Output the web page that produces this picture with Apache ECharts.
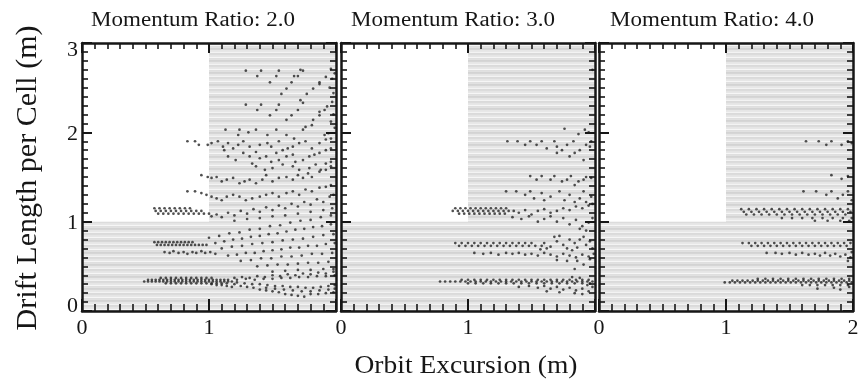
<!DOCTYPE html>
<html>
<head>
<meta charset="utf-8">
<script src="https://cdn.jsdelivr.net/npm/echarts@6/dist/echarts.min.js"></script>
<style>
  html, body { margin: 0; padding: 0; background: #ffffff; }
  #chart { width: 862px; height: 388px; }
</style>
</head>
<body>
<div id="chart"></div>
<script>
// ---- labels ----
const panelTitles = ['Momentum Ratio: 2.0', 'Momentum Ratio: 3.0', 'Momentum Ratio: 4.0'];
const xAxisTitle = 'Orbit Excursion (m)';
const yAxisTitle = 'Drift Length per Cell (m)';

// ---- axis ranges (m) ----
const xRange = [0, 2];
const yRange = [0, 3];

// ---- hatched regions, as [[x0, y0], [x1, y1]] in axis units ----
const shadedRegions = [
  [[0, 0], [2, 1]],
  [[1, 1], [2, 3]]
];

// ---- momentum ratio 2.0: isolated dots [x, y] ----
const ratio2Dots = [
  [1.29,2.69],[1.41,2.69],[1.55,2.69],[1.72,2.70],[1.74,2.69],[1.96,2.71],
  [1.38,2.63],[1.53,2.63],[1.67,2.63],[1.70,2.63],[1.92,2.62],[1.99,2.66],
  [1.48,2.56],[1.65,2.56],[1.87,2.56],[1.87,2.54],[1.97,2.60],
  [1.61,2.49],[1.82,2.49],[1.95,2.50],[1.57,2.43],[1.77,2.43],[1.98,2.44],
  [1.72,2.36],[1.74,2.33],[1.97,2.34],[1.29,2.31],[1.41,2.31],[1.55,2.31],[1.93,2.29],
  [1.38,2.25],[1.53,2.25],[1.70,2.25],[1.91,2.25],[1.87,2.23],
  [1.48,2.19],[1.65,2.19],[1.87,2.19],[1.98,2.20],[1.61,2.14],[1.82,2.14],[1.96,2.12],
  [1.13,2.03],[1.24,2.03],[1.37,2.03],[1.53,2.03],[1.74,2.03],[1.99,2.05],
  [1.23,1.97],[1.31,2.00],[1.46,1.97],[1.61,1.97],[1.67,1.93],[1.76,2.06],[1.81,2.08],[1.91,1.97],[1.94,1.99],
  [0.83,1.90],[0.89,1.90],[0.92,1.86],[0.99,1.86],[1.02,1.88],[1.07,1.90],[1.11,1.84],[1.12,1.80],
  [1.15,1.88],[1.19,1.82],[1.23,1.86],[1.27,1.90],[1.32,1.84],[1.37,1.78],[1.40,1.86],[1.46,1.88],
  [1.49,1.84],[1.55,1.90],[1.58,1.80],[1.62,1.82],[1.66,1.84],[1.71,1.88],[1.76,1.90],[1.81,1.82],
  [1.87,1.88],[1.92,1.92],[1.96,1.93],
  [1.15,1.73],[1.21,1.69],[1.27,1.77],[1.32,1.73],[1.34,1.65],[1.40,1.71],[1.45,1.73],[1.49,1.67],
  [1.53,1.77],[1.55,1.69],[1.61,1.73],[1.66,1.75],[1.68,1.67],[1.74,1.69],[1.79,1.73],[1.83,1.75],
  [1.87,1.77],[1.92,1.80],[1.96,1.82],
  [1.37,1.62],[1.44,1.58],[1.50,1.60],[1.58,1.64],[1.66,1.62],[1.71,1.58],[1.79,1.60],[1.84,1.64],
  [1.88,1.58],[1.92,1.65],[1.96,1.67],
  [0.94,1.52],[0.99,1.50],[1.02,1.49],[1.06,1.50],[1.10,1.45],[1.14,1.47],[1.19,1.49],[1.24,1.43],
  [1.28,1.45],[1.32,1.47],[1.37,1.43],[1.42,1.47],[1.45,1.52],[1.50,1.45],[1.55,1.49],[1.61,1.50],
  [1.66,1.47],[1.70,1.52],[1.74,1.49],[1.78,1.54],[1.81,1.50],[1.87,1.56],[1.92,1.58],[1.96,1.62],
  [0.83,1.34],[0.89,1.34],[0.94,1.32],[0.98,1.30],[1.02,1.28],[1.06,1.26],[1.10,1.24],[1.14,1.28],
  [1.19,1.30],[1.24,1.28],[1.29,1.24],[1.34,1.26],[1.40,1.28],[1.45,1.30],[1.50,1.32],[1.55,1.28],
  [1.61,1.32],[1.66,1.34],[1.71,1.30],[1.76,1.36],[1.81,1.34],[1.87,1.38],[1.92,1.39],[1.96,1.41],
  [1.02,1.06],[1.06,1.08],[1.10,1.05],[1.15,1.10],[1.20,1.07],[1.25,1.12],[1.30,1.09],[1.35,1.14],
  [1.40,1.11],[1.45,1.16],[1.50,1.13],[1.55,1.18],[1.60,1.15],[1.65,1.20],[1.70,1.17],[1.75,1.22],
  [1.80,1.19],[1.85,1.25],[1.90,1.22],[1.95,1.28],[1.98,1.30],
  [1.20,1.01],[1.30,1.03],[1.40,1.04],[1.50,1.06],[1.60,1.07],[1.70,1.09],[1.80,1.11],[1.90,1.13],[1.97,1.15],
  [0.65,0.66],[0.69,0.65],[0.72,0.67],[0.76,0.65],[0.80,0.66],[0.83,0.64],[0.87,0.66],[0.90,0.65],
  [0.94,0.67],[0.97,0.65],[1.01,0.66],[1.05,0.64],
  [1.00,0.82],[1.08,0.84],[1.16,0.87],[1.24,0.88],[1.32,0.91],[1.40,0.92],[1.48,0.95],[1.56,0.96],
  [1.64,0.99],[1.72,1.01],[1.80,1.02],[1.88,1.05],[1.96,1.07],
  [1.05,0.76],[1.12,0.78],[1.19,0.80],[1.26,0.81],[1.33,0.83],[1.40,0.84],[1.47,0.86],[1.54,0.87],
  [1.61,0.89],[1.68,0.91],[1.75,0.92],[1.82,0.94],[1.89,0.95],[1.96,0.97],
  [1.10,0.70],[1.18,0.72],[1.26,0.73],[1.34,0.75],[1.42,0.76],[1.50,0.77],[1.58,0.79],[1.66,0.80],
  [1.74,0.81],[1.82,0.83],[1.90,0.85],[1.98,0.86],
  [1.15,0.62],[1.22,0.63],[1.29,0.65],[1.36,0.65],[1.43,0.67],[1.50,0.68],[1.57,0.69],[1.64,0.71],
  [1.71,0.71],[1.78,0.73],[1.85,0.73],[1.92,0.75],[1.99,0.76],
  [1.25,0.56],[1.33,0.57],[1.41,0.59],[1.49,0.59],[1.57,0.61],[1.65,0.61],[1.73,0.62],[1.81,0.64],
  [1.89,0.64],[1.97,0.65],
  [1.38,0.50],[1.46,0.51],[1.54,0.52],[1.62,0.52],[1.70,0.53],[1.78,0.54],[1.86,0.54],[1.94,0.55],
  [1.50,0.44],[1.60,0.45],[1.70,0.46],[1.80,0.46],[1.90,0.47],[1.98,0.47],
  [1.20,0.37],[1.26,0.38],[1.32,0.37],[1.38,0.39],[1.44,0.38],[1.50,0.40],[1.56,0.39],[1.62,0.41],
  [1.68,0.40],[1.74,0.42],[1.80,0.41],[1.86,0.43],[1.92,0.42],[1.98,0.44],
  [1.15,0.35],[1.22,0.35],[1.29,0.36],[1.36,0.35],[1.43,0.36],[1.50,0.36],[1.57,0.37],[1.64,0.37],
  [1.71,0.38],[1.78,0.38],[1.85,0.39],[1.92,0.39],[1.99,0.40],
  [1.20,0.30],[1.25,0.28],[1.30,0.27],[1.35,0.26],[1.40,0.24],[1.45,0.23],[1.50,0.22],[1.55,0.21],
  [1.60,0.19],[1.65,0.18],[1.70,0.17],[1.75,0.16],
  [1.22,0.32],[1.28,0.31],[1.34,0.30],[1.40,0.30],[1.46,0.29],[1.52,0.28],[1.58,0.28],[1.64,0.27],
  [1.70,0.27],[1.76,0.26],[1.82,0.26],[1.88,0.27],[1.94,0.28],[1.99,0.29],
  [1.45,0.26],[1.52,0.25],[1.59,0.24],[1.66,0.23],[1.73,0.22],[1.80,0.22],[1.87,0.23],[1.94,0.24],[1.99,0.25],
  [1.80,0.19],[1.86,0.19],[1.92,0.20],[1.98,0.21],
  [1.02,0.30],[1.06,0.29],[1.10,0.29],[1.14,0.28],[1.18,0.27]
];
// ---- momentum ratio 2.0: dense runs [y, [x, ...]] ----
const ratio2Runs = [
  [1.15, [0.57,0.61,0.65,0.69,0.73,0.77,0.81,0.85]],
  [1.12, [0.58,0.62,0.66,0.70,0.74,0.78,0.82,0.86,0.90,0.94]],
  [1.09, [0.60,0.64,0.68,0.72,0.76,0.80,0.84,0.88,0.92,0.96,1.00]],
  [0.77, [0.57,0.60,0.63,0.66,0.69,0.72,0.75,0.78,0.81,0.84,0.87]],
  [0.74, [0.59,0.62,0.65,0.68,0.71,0.74,0.77,0.80,0.83,0.86,0.89,0.92,0.95,0.98]],
  [0.37, [0.62,0.66,0.70,0.74,0.78,0.82,0.86,0.90,0.94,0.98,1.02]],
  [0.35, [0.52,0.55,0.58,0.61,0.64,0.67,0.70,0.73,0.76,0.79,0.82,0.85,0.88,0.91,0.94,0.97,1.00,1.03,1.06,1.09,1.12]],
  [0.33, [0.49,0.52,0.55,0.58,0.61,0.64,0.67,0.70,0.73,0.76,0.79,0.82,0.85,0.88,0.91,0.94,0.97,1.00,1.03,1.06,1.09,1.12,1.15,1.18]],
  [0.31, [0.66,0.70,0.74,0.78,0.82,0.86,0.90,0.94,0.98,1.02,1.06,1.10,1.14]]
];

// ---- momentum ratio 3.0 ----
const ratio3Dots = [
  [1.98,2.70],[1.76,2.04],[1.87,1.98],[1.92,2.03],[1.95,2.00],
  [1.31,1.90],[1.39,1.90],[1.45,1.86],[1.49,1.90],[1.54,1.86],[1.58,1.90],[1.62,1.82],[1.68,1.90],
  [1.70,1.84],[1.74,1.80],[1.78,1.86],[1.70,1.77],[1.80,1.73],[1.83,1.90],[1.84,1.77],[1.88,1.80],
  [1.91,1.69],[1.93,1.86],[1.97,1.90],[1.96,1.84],
  [1.49,1.51],[1.54,1.47],[1.58,1.51],[1.65,1.47],[1.68,1.51],[1.74,1.45],[1.78,1.47],[1.81,1.51],
  [1.84,1.41],[1.87,1.45],[1.91,1.47],[1.93,1.50],[1.97,1.49],
  [1.30,1.34],[1.38,1.34],[1.45,1.30],[1.49,1.34],[1.52,1.26],[1.58,1.32],[1.60,1.24],[1.65,1.28],
  [1.72,1.34],[1.76,1.24],[1.80,1.30],[1.84,1.22],[1.88,1.26],[1.91,1.34],[1.93,1.22],[1.97,1.28],
  [1.40,1.10],[1.45,1.13],[1.50,1.08],[1.55,1.12],[1.60,1.14],[1.65,1.10],[1.70,1.12],[1.75,1.15],
  [1.80,1.13],[1.85,1.17],[1.90,1.15],[1.95,1.18],[1.98,1.20],[1.35,1.05],[1.42,1.03],[1.48,1.06],
  [1.55,1.00],[1.60,1.03],[1.65,1.06],[1.70,1.00],[1.75,1.04],[1.80,0.97],[1.85,1.02],[1.90,0.95],
  [1.95,0.99],[1.98,1.04],[1.88,0.92],[1.93,0.90],
  [1.60,0.76],[1.65,0.72],[1.68,0.83],[1.70,0.78],[1.72,0.84],[1.75,0.74],[1.78,0.70],[1.80,0.80],
  [1.84,0.76],[1.86,0.71],[1.88,0.80],[1.91,0.83],[1.93,0.74],[1.96,0.78],[1.98,0.70],[1.82,0.68],
  [1.62,0.70],[1.57,0.69],
  [1.05,0.65],[1.12,0.64],[1.18,0.65],[1.24,0.63],[1.30,0.65],[1.35,0.64],[1.40,0.65],[1.45,0.63],
  [1.50,0.64],[1.55,0.62],[1.60,0.65],[1.65,0.63],[1.70,0.61],[1.75,0.64],[1.80,0.62],[1.85,0.60],
  [1.90,0.63],[1.95,0.61],[1.99,0.64],
  [1.70,0.57],[1.78,0.56],[1.86,0.56],[1.91,0.52],[1.96,0.58],[1.84,0.47],
  [1.40,0.27],[1.48,0.28],[1.55,0.26],[1.60,0.28],[1.65,0.25],[1.70,0.27],[1.75,0.24],[1.80,0.26],
  [1.85,0.23],[1.90,0.25],[1.95,0.22],[1.98,0.27],[1.62,0.22],[1.72,0.21],[1.84,0.20],[1.90,0.19],
  [1.94,0.29],[1.88,0.37],[1.82,0.38]
];
const ratio3Runs = [
  [1.15, [0.90,0.94,0.98,1.02,1.06,1.10,1.14,1.18,1.22,1.26,1.30]],
  [1.12, [0.88,0.92,0.96,1.00,1.04,1.08,1.12,1.16,1.20,1.24,1.28,1.32,1.36]],
  [1.09, [0.93,0.97,1.01,1.05,1.09,1.13,1.17,1.21,1.25,1.29]],
  [0.76, [0.90,0.95,1.00,1.05,1.10,1.15,1.20,1.25,1.30,1.35,1.40,1.45,1.50]],
  [0.73, [0.93,0.98,1.03,1.08,1.13,1.18,1.23,1.28,1.33,1.38,1.43,1.48,1.53,1.58]],
  [0.35, [0.95,1.00,1.05,1.10,1.15,1.20,1.25,1.30,1.35,1.40,1.45,1.50,1.55,1.60,1.65,1.70,1.75,1.80,1.85,1.90,1.95]],
  [0.33, [0.78,0.82,0.86,0.90,0.94,0.98,1.02,1.06,1.10,1.14,1.18,1.22,1.26,1.30,1.34,1.38,1.42,1.46,1.50,1.54,1.58,1.62,1.66,1.70,1.74,1.78,1.82,1.86,1.90,1.94,1.98]],
  [0.31, [1.00,1.06,1.12,1.18,1.24,1.30,1.36,1.42,1.48,1.54,1.60,1.66,1.72,1.78,1.84,1.90,1.96]]
];

// ---- momentum ratio 4.0 ----
const ratio4Dots = [
  [1.63,1.90],[1.73,1.90],[1.79,1.86],[1.83,1.90],[1.91,1.86],[1.96,1.90],[1.99,1.88],
  [1.83,1.52],[1.91,1.48],[1.96,1.51],
  [1.61,1.34],[1.71,1.34],[1.79,1.30],[1.83,1.34],[1.88,1.26],[1.92,1.30],[1.96,1.34],[1.99,1.24],
  [1.32,0.65],[1.39,0.65],[1.44,0.64],[1.50,0.65],[1.55,0.63],[1.60,0.65],[1.65,0.63],[1.70,0.64],
  [1.74,0.62],[1.78,0.65],[1.82,0.62],[1.86,0.64],[1.90,0.61],[1.94,0.63],[1.98,0.60],[1.96,0.56],[1.99,0.66],
  [1.72,0.25],[1.85,0.26],[1.90,0.24],[1.97,0.27]
];
const ratio4Runs = [
  [1.14, [1.12,1.18,1.24,1.30,1.36,1.42,1.48,1.54,1.60,1.66,1.72,1.78,1.84,1.90,1.96]],
  [1.11, [1.14,1.20,1.26,1.32,1.38,1.44,1.50,1.56,1.62,1.68,1.74,1.80,1.86,1.92,1.98]],
  [1.08, [1.16,1.22,1.28,1.34,1.40,1.46,1.52,1.58,1.64,1.70,1.76,1.82,1.88,1.94]],
  [1.04, [1.44,1.52,1.60,1.68,1.76,1.84,1.92,1.99]],
  [1.01, [1.70,1.80,1.90,1.97]],
  [0.76, [1.13,1.18,1.23,1.28,1.33,1.38,1.43,1.48,1.53,1.58,1.63,1.68,1.73,1.78,1.83,1.88,1.93,1.98]],
  [0.73, [1.20,1.25,1.30,1.35,1.40,1.45,1.50,1.55,1.60,1.65,1.70,1.75,1.80,1.85,1.90,1.95]],
  [0.36, [1.25,1.31,1.37,1.43,1.49,1.55,1.61,1.67,1.73,1.79,1.85,1.91,1.97]],
  [0.34, [1.05,1.09,1.13,1.17,1.21,1.25,1.29,1.33,1.37,1.41,1.45,1.49,1.53,1.57,1.61,1.65,1.69,1.73,1.77,1.81,1.85,1.89,1.93,1.97]],
  [0.32, [0.99,1.03,1.07,1.11,1.15,1.19,1.23,1.27,1.31,1.35,1.39,1.43,1.47,1.51,1.55,1.59,1.63,1.67,1.71,1.75,1.79,1.83,1.87,1.91,1.95,1.99]],
  [0.29, [1.60,1.66,1.72,1.78,1.84,1.90,1.96]]
];

const panelDots = [ratio2Dots, ratio3Dots, ratio4Dots];
const panelRuns = [ratio2Runs, ratio3Runs, ratio4Runs];

// ---- drawing ----
const INK = '#161616';
const SERIF = '"Liberation Serif", "Times New Roman", serif';
const gridLefts = [82, 341, 599];
const gridWidth = 254, gridTop = 43, gridHeight = 268;

// horizontal stripe fill used for the hatched regions
function stripeFill() {
  const c = document.createElement('canvas');
  c.width = 4; c.height = 12;
  const g = c.getContext('2d');
  const rows = ['#d3d3d3', '#d6d6d6', '#e6e6e6', '#e8e8e8', '#f3f3f3', '#dadada',
                '#dcdcdc', '#e5e5e5', '#e7e7e7', '#f6f6f6', '#dfdfdf', '#e1e1e1'];
  rows.forEach((col, i) => { g.fillStyle = col; g.fillRect(0, i, 4, 1); });
  return { image: c, repeat: 'repeat' };
}
const hatch = stripeFill();

function collect(dots, runs) {
  const out = dots.slice();
  runs.forEach(([y, xs]) => xs.forEach(x => out.push([x, y])));
  return out;
}

const grids = [], xAxes = [], yAxes = [], series = [];
const tickLine = { color: INK, width: 2 };
const minorLine = { color: INK, width: 1.6 };
const labelFont = { color: INK, fontFamily: SERIF, fontSize: 22 };

gridLefts.forEach((left, i) => {
  grids.push({ left: left, top: gridTop, width: gridWidth, height: gridHeight, containLabel: false });
  const xBase = {
    type: 'value', gridIndex: i, min: xRange[0], max: xRange[1], interval: 1, z: 10,
    axisLine: { show: true, onZero: false, lineStyle: { color: INK, width: 2.5 } },
    splitLine: { show: false }
  };
  xAxes.push(Object.assign({}, xBase, {
    position: 'bottom',
    axisTick: { show: true, inside: true, length: 12, lineStyle: tickLine },
    minorTick: { show: true, splitNumber: 10, length: 7, lineStyle: minorLine },
    axisLabel: Object.assign({ show: true, margin: 6, showMinLabel: true, showMaxLabel: i === 2 }, labelFont)
  }));
  xAxes.push(Object.assign({}, xBase, {
    position: 'top',
    axisTick: { show: true, inside: true, length: 10, lineStyle: tickLine },
    minorTick: { show: true, splitNumber: 10, length: 6, lineStyle: minorLine },
    axisLabel: { show: false }
  }));
  const yBase = {
    type: 'value', gridIndex: i, min: yRange[0], max: yRange[1], interval: 1, z: 10,
    axisLine: { show: true, onZero: false, lineStyle: { color: INK, width: 2.5 } },
    splitLine: { show: false },
    axisTick: { show: true, inside: true, length: 10, lineStyle: tickLine },
    minorTick: { show: true, splitNumber: 10, length: 6, lineStyle: minorLine }
  };
  yAxes.push(Object.assign({}, yBase, {
    position: 'left',
    axisLabel: Object.assign({
      show: i === 0, margin: 4,
      // the end labels sit inside the frame's height
      formatter: v => v === yRange[1] ? '{top|' + v + '}' : v === yRange[0] ? '{bot|' + v + '}' : '{mid|' + v + '}',
      rich: {
        top: Object.assign({ padding: [14, 0, 0, 0] }, labelFont),
        bot: Object.assign({ padding: [0, 0, 10, 0] }, labelFont),
        mid: Object.assign({ padding: [3, 0, 0, 0] }, labelFont)
      }
    }, labelFont)
  }));
  yAxes.push(Object.assign({}, yBase, { position: 'right', axisLabel: { show: false } }));

  // hatched regions
  series.push({
    type: 'scatter', xAxisIndex: 2 * i, yAxisIndex: 2 * i, data: [], z: 1, silent: true,
    markArea: {
      silent: true,
      itemStyle: { color: hatch, borderWidth: 0 },
      data: shadedRegions.map(([a, b]) => [{ coord: a }, { coord: b }])
    }
  });
  // orbit points
  series.push({
    type: 'scatter', xAxisIndex: 2 * i, yAxisIndex: 2 * i, z: 3, silent: true,
    symbol: 'circle', symbolSize: 2.7,
    itemStyle: { color: '#242424' },
    data: collect(panelDots[i], panelRuns[i])
  });
});

const titleCentres = [193, 453, 712];
const graphics = titleCentres.map((cx, i) => ({
  type: 'text', x: cx, y: 21, scaleX: 1.15,
  style: { text: panelTitles[i], font: '20px ' + SERIF, fill: INK, textAlign: 'center', textVerticalAlign: 'middle' }
}));
graphics.push({
  type: 'text', x: 466, y: 366, scaleX: 1.1,
  style: { text: xAxisTitle, font: '25px ' + SERIF, fill: INK, textAlign: 'center', textVerticalAlign: 'middle' }
});
graphics.push({
  type: 'text', x: 28, y: 178, rotation: Math.PI / 2,
  style: { text: yAxisTitle, font: '30px ' + SERIF, fill: INK, textAlign: 'center', textVerticalAlign: 'middle' }
});

const chart = echarts.init(document.getElementById('chart'), null, { renderer: 'canvas' });
chart.setOption({
  backgroundColor: '#ffffff',
  animation: false,
  grid: grids,
  xAxis: xAxes,
  yAxis: yAxes,
  series: series,
  graphic: graphics
});
</script>
</body>
</html>
